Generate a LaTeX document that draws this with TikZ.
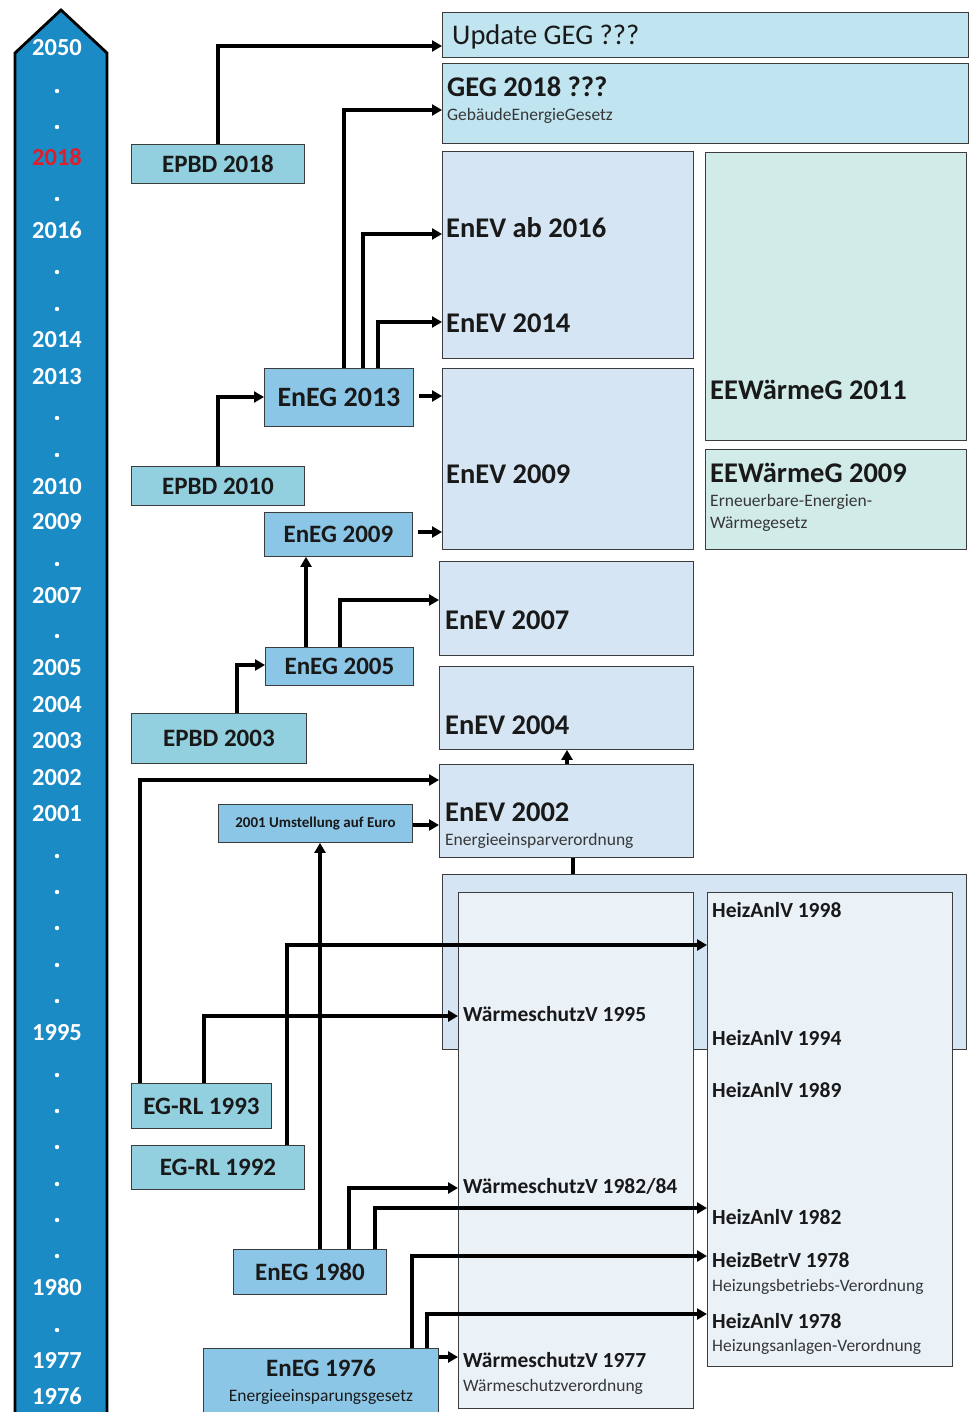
\documentclass[tikz,border=0pt]{standalone}
\usepackage{fontspec}
\setmainfont{Carlito}
\usetikzlibrary{arrows.meta}
\definecolor{tlblue}{RGB}{27,139,198}
\definecolor{epbdc}{RGB}{146,208,224}
\definecolor{enegc}{RGB}{140,198,230}
\definecolor{gegc}{RGB}{192,228,240}
\definecolor{enevc}{RGB}{213,229,243}
\definecolor{eewc}{RGB}{209,235,233}
\definecolor{innerc}{RGB}{234,242,248}
\definecolor{txt}{RGB}{25,25,25}
\definecolor{subtxt}{RGB}{55,55,55}
\definecolor{edge}{RGB}{60,60,60}
\definecolor{redyear}{RGB}{225,30,40}
\tikzset{
  rbox/.style={draw=edge, line width=0.9pt, anchor=north west, inner sep=0pt, text=txt, align=center},
  conn/.style={line width=3.2pt, line cap=butt, -{Triangle[length=10pt,width=11pt]}},
  plainconn/.style={line width=3.2pt},
  bigt/.style={font=\fontsize{28.5}{30}\selectfont\bfseries, text=txt, anchor=west, inner sep=0pt, text height=18.2pt, text depth=0pt},
  bigr/.style={font=\fontsize{28.5}{30}\selectfont, text=txt, anchor=west, inner sep=0pt, text height=18.2pt, text depth=0pt},
  midt/.style={font=\fontsize{25}{27}\selectfont\bfseries},
  smallt/.style={font=\fontsize{21.5}{23}\selectfont\bfseries, text=txt, anchor=west, inner sep=0pt, text height=13.8pt, text depth=0pt},
  subt/.style={font=\fontsize{17.5}{19}\selectfont, text=subtxt, anchor=west, inner sep=0pt, text height=11.2pt, text depth=0pt},
  yeart/.style={font=\fontsize{24.5}{26}\selectfont\bfseries, text=white, inner sep=0pt, text height=15.7pt, text depth=0pt},
}
\begin{document}
\begin{tikzpicture}[x=1pt,y=-1pt]
\useasboundingbox (0,0) rectangle (977,1412);
\fill[white] (0,0) rectangle (977,1412);

% timeline arrow
\draw[fill=tlblue, line width=2.8pt, line join=miter] (15,1420) -- (15,53) -- (61,10) -- (107,53) -- (107,1420);
\foreach \y/\lab/\nm in {48/2050/a,231/2016/b,340/2014/c,377/2013/d,487/2010/e,522/2009/f,596/2007/g,668/2005/h,705/2004/i,741/2003/j,778/2002/k,814/2001/l,1033/1995/m,1288/1980/n,1361/1977/o,1397/1976/p}
  \node[yeart] (yr\nm) at (57,\y) {\lab};
\node[yeart, text=redyear] (yr2018) at (57,158) {2018};
\foreach \y in {91,127,199,272,309,418,455,564,636,856,892,928,965,1001,1075,1111,1147,1184,1220,1256,1330}
  \fill[white] (57,\y) circle (2.2);

% big boxes
\node[rbox, fill=gegc, minimum width=526pt, minimum height=45pt] (upd) at (442,12) {};
\node[rbox, fill=gegc, minimum width=526pt, minimum height=80pt] (geg) at (442,63) {};
\node[rbox, fill=enevc, minimum width=251pt, minimum height=207pt] (enev16) at (442,151) {};
\node[rbox, fill=eewc, minimum width=261pt, minimum height=288pt] (eew11) at (705,152) {};
\node[rbox, fill=eewc, minimum width=261pt, minimum height=100pt] (eew09) at (705,449) {};
\node[rbox, fill=enevc, minimum width=251pt, minimum height=181pt] (enev09) at (442,368) {};
\node[rbox, fill=enevc, minimum width=254pt, minimum height=94pt] (enev07) at (439,561) {};
\node[rbox, fill=enevc, minimum width=254pt, minimum height=83pt] (enev04) at (439,666) {};
\node[rbox, fill=enevc, minimum width=254pt, minimum height=93pt] (enev02) at (439,764) {};
\node[rbox, fill=enevc, minimum width=524pt, minimum height=175pt] (outer) at (442,874) {};
\node[rbox, fill=innerc, minimum width=235pt, minimum height=516pt] (wsv) at (458,892) {};
\node[rbox, fill=innerc, minimum width=245pt, minimum height=474pt] (heiz) at (707,892) {};

% left boxes
\node[rbox, fill=epbdc, minimum width=173pt, minimum height=39pt, midt] (epbd18) at (131,144) {EPBD 2018};
\node[rbox, fill=epbdc, minimum width=173pt, minimum height=39pt, midt] (epbd10) at (131,466) {EPBD 2010};
\node[rbox, fill=epbdc, minimum width=175pt, minimum height=50pt, midt] (epbd03) at (131,713) {EPBD 2003};
\node[rbox, fill=epbdc, minimum width=140pt, minimum height=45pt, midt] (egrl93) at (131,1083) {EG-RL 1993};
\node[rbox, fill=epbdc, minimum width=173pt, minimum height=44pt, midt] (egrl92) at (131,1145) {EG-RL 1992};
\node[rbox, fill=enegc, minimum width=149pt, minimum height=58pt, font=\fontsize{28}{30}\selectfont\bfseries] (eneg13) at (264,368) {EnEG 2013};
\node[rbox, fill=enegc, minimum width=148pt, minimum height=44pt, midt] (eneg09) at (264,512) {EnEG 2009};
\node[rbox, fill=enegc, minimum width=148pt, minimum height=38pt, midt] (eneg05) at (265,647) {EnEG 2005};
\node[rbox, fill=enegc, minimum width=194pt, minimum height=38pt, font=\fontsize{15}{17}\selectfont\bfseries] (euro) at (218,804) {2001 Umstellung auf Euro};
\node[rbox, fill=enegc, minimum width=153pt, minimum height=45pt, midt] (eneg80) at (233,1249) {EnEG 1980};
\node[rbox, fill=enegc, minimum width=235pt, minimum height=70pt] (eneg76) at (203,1348) {};
\node[midt, text=txt, inner sep=0pt, text height=16pt, text depth=0pt] (eneg76t) at (321,1368) {EnEG 1976};
\node[subt, anchor=center, text=txt] (eneg76s) at (321,1396) {Energieeinsparungsgesetz};

% connectors
\draw[conn] (epbd18.north -| 218,0) |- (upd.west |- 0,46);
\draw[conn] (eneg13.north -| 344,0) |- (geg.west |- 0,110);
\draw[conn] (eneg13.north -| 363,0) |- (enev16.west |- 0,234);
\draw[conn] (eneg13.north -| 378,0) |- (enev16.west |- 0,322);
\draw[conn, shorten <=5pt] (eneg13.east |- 0,396) -- (enev09.west |- 0,396);
\draw[conn] (epbd10.north -| 218,0) |- (eneg13.west |- 0,397);
\draw[conn, shorten <=5pt] (eneg09.east |- 0,532) -- (enev09.west |- 0,532);
\draw[conn] (eneg05.north -| 306,0) -- (eneg09.south -| 306,0);
\draw[conn] (eneg05.north -| 340,0) |- (enev07.west |- 0,600);
\draw[conn] (epbd03.north -| 237,0) |- (eneg05.west |- 0,665);
\draw[conn] (enev02.north -| 567,0) -- (enev04.south -| 567,0);
\draw[plainconn] (outer.north -| 573,0) -- (enev02.south -| 573,0);
\draw[conn] (egrl93.north -| 140,0) |- (enev02.west |- 0,780);
\draw[conn] (egrl93.north -| 204,0) |- (wsv.west |- 0,1016);
\draw[conn] (egrl92.north -| 287,0) |- (heiz.west |- 0,945);
\draw[conn] (eneg80.north -| 320,0) -- (euro.south -| 320,0);
\draw[conn] (euro.east |- 0,825) -- (enev02.west |- 0,825);
\draw[conn] (eneg80.north -| 349,0) |- (wsv.west |- 0,1188);
\draw[conn] (eneg80.north -| 375,0) |- (heiz.west |- 0,1208);
\draw[conn] (eneg76.north -| 412,0) |- (heiz.west |- 0,1256);
\draw[conn] (eneg76.north -| 427,0) |- (heiz.west |- 0,1314);
\draw[conn] (eneg76.east |- 0,1357) -- (wsv.west |- 0,1357);

% texts in big boxes
\node[bigr] (t1) at (452,35) {Update GEG ???};
\node[bigt] (t2) at (447,87) {GEG 2018 ???};
\node[subt] (t2s) at (447,115) {GebäudeEnergieGesetz};
\node[bigt] (t3) at (446,228) {EnEV ab 2016};
\node[bigt] (t4) at (446,323) {EnEV 2014};
\node[bigt] (t5) at (710,390) {EEWärmeG 2011};
\node[bigt] (t6) at (710,473) {EEWärmeG 2009};
\node[subt] (t6a) at (710,501) {Erneuerbare-Energien-};
\node[subt] (t6b) at (710,523) {Wärmegesetz};
\node[bigt] (t7) at (446,474) {EnEV 2009};
\node[bigt] (t8) at (445,620) {EnEV 2007};
\node[bigt] (t9) at (445,725) {EnEV 2004};
\node[bigt] (t10) at (445,812) {EnEV 2002};
\node[subt] (t10s) at (445,840) {Energieeinsparverordnung};

\node[smallt] (h1) at (712,911) {HeizAnlV 1998};
\node[smallt] (h2) at (712,1039) {HeizAnlV 1994};
\node[smallt] (h3) at (712,1091) {HeizAnlV 1989};
\node[smallt] (h4) at (712,1218) {HeizAnlV 1982};
\node[smallt] (h5) at (712,1261) {HeizBetrV 1978};
\node[subt] (h5s) at (712,1286) {Heizungsbetriebs-Verordnung};
\node[smallt] (h6) at (712,1322) {HeizAnlV 1978};
\node[subt] (h6s) at (712,1346) {Heizungsanlagen-Verordnung};

\node[smallt] (w1) at (463,1015) {WärmeschutzV 1995};
\node[smallt] (w2) at (463,1187) {WärmeschutzV 1982/84};
\node[smallt] (w3) at (463,1361) {WärmeschutzV 1977};
\node[subt] (w3s) at (463,1386) {Wärmeschutzverordnung};
\end{tikzpicture}
\end{document}
